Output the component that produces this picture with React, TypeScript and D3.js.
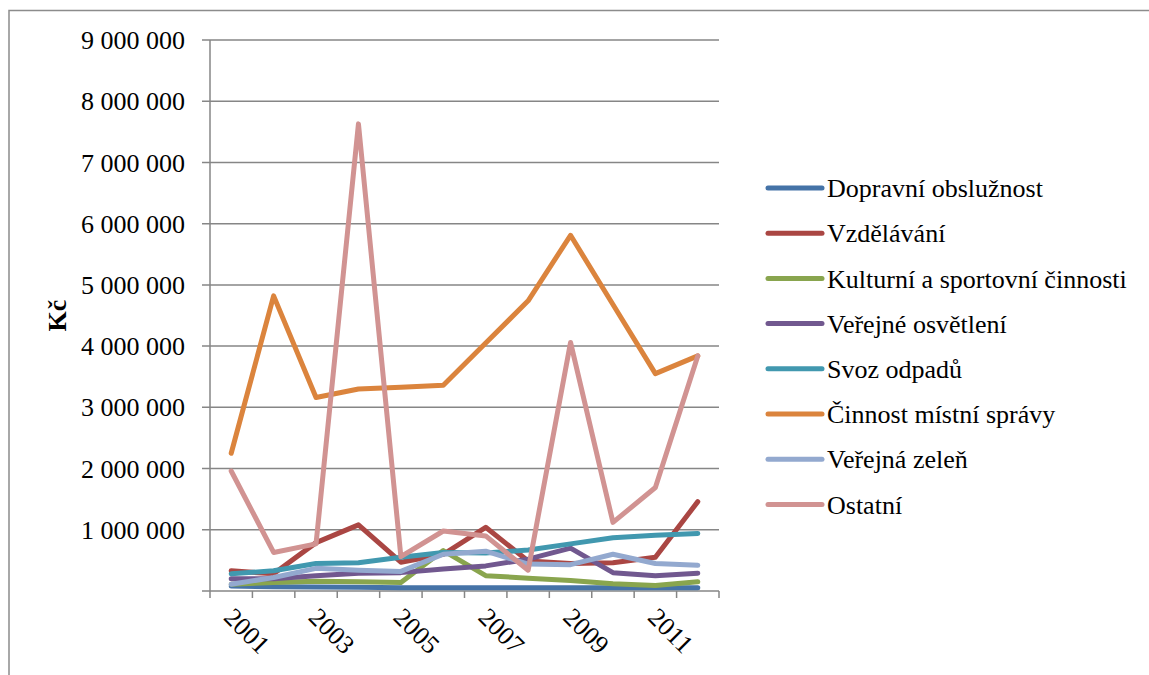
import React, { useEffect, useRef } from "react";
import * as d3 from "d3";

const years = ["2001", "2002", "2003", "2004", "2005", "2006", "2007", "2008", "2009", "2010", "2011", "2012"];

const dopravni = [80000, 70000, 65000, 60000, 55000, 55000, 55000, 55000, 55000, 55000, 55000, 55000];
const vzdelavani = [330000, 280000, 790000, 1080000, 470000, 600000, 1040000, 490000, 450000, 460000, 550000, 1460000];
const kulturni = [110000, 140000, 160000, 150000, 140000, 660000, 250000, 210000, 170000, 120000, 90000, 150000];
const osvetleni = [200000, 200000, 250000, 290000, 300000, 360000, 410000, 520000, 700000, 300000, 250000, 290000];
const svoz = [280000, 330000, 450000, 460000, 550000, 630000, 620000, 670000, 770000, 870000, 910000, 940000];
const sprava = [2250000, 4820000, 3160000, 3300000, 3330000, 3360000, 4050000, 4740000, 5810000, 4680000, 3550000, 3840000];
const zelen = [110000, 220000, 370000, 340000, 320000, 600000, 650000, 440000, 430000, 600000, 450000, 420000];
const ostatni = [1960000, 630000, 770000, 7630000, 560000, 980000, 900000, 340000, 4060000, 1120000, 1690000, 3840000];

const seriesNames = [
    "Dopravní obslužnost",
    "Vzdělávání",
    "Kulturní a sportovní činnosti",
    "Veřejné osvětlení",
    "Svoz odpadů",
    "Činnost místní správy",
    "Veřejná zeleň",
    "Ostatní",
];
const seriesValues = [dopravni, vzdelavani, kulturni, osvetleni, svoz, sprava, zelen, ostatni];
const colors = ["#4573a7", "#aa4643", "#89a54e", "#71588f", "#4198af", "#db843d", "#93a9cf", "#d19392"];

const yTicks = [0, 1000000, 2000000, 3000000, 4000000, 5000000, 6000000, 7000000, 8000000, 9000000];

const FONT = "'Liberation Serif', 'Times New Roman', serif";

const formatSpaces = (n: number): string => {
    return n.toString().replace(/\B(?=(\d{3})+(?!\d))/g, " ");
};

const App = () => {
    const svgRef = useRef(null);

    useEffect(() => {
        document.body.style.margin = "0";
        const width = 1149;
        const height = 675;
        const left = 210;
        const right = 719;
        const top = 40;
        const bottom = 591;

        const svg = d3.select(svgRef.current).attr("width", width).attr("height", height);
        svg.selectAll("*").remove();

        // outer chart frame (cut off at right and bottom)
        svg.append("path")
            .attr("d", `M9,${height + 5} L9,10.5 L${width + 5},10.5`)
            .attr("fill", "none")
            .attr("stroke", "#8c8c8c")
            .attr("stroke-width", 1.5);

        const x = d3.scaleBand().domain(years).range([left, right]);
        const y = d3.scaleLinear().domain([0, 9000000]).range([bottom, top]);

        // gridlines + y ticks
        svg.selectAll(".grid")
            .data(yTicks)
            .enter()
            .append("line")
            .attr("class", "grid")
            .attr("x1", left - 8)
            .attr("x2", right)
            .attr("y1", (d) => y(d))
            .attr("y2", (d) => y(d))
            .attr("stroke", "#868686")
            .attr("stroke-width", 1.5);

        svg.selectAll(".ylabel")
            .data(yTicks.filter((d) => d > 0))
            .enter()
            .append("text")
            .attr("class", "ylabel")
            .attr("x", 185)
            .attr("y", (d) => y(d))
            .attr("dy", "0.35em")
            .attr("text-anchor", "end")
            .attr("font-family", FONT)
            .attr("font-size", 26)
            .attr("fill", "#000")
            .text((d) => formatSpaces(d));

        // axes lines
        svg.append("line")
            .attr("x1", left)
            .attr("x2", left)
            .attr("y1", top)
            .attr("y2", bottom)
            .attr("stroke", "#868686")
            .attr("stroke-width", 1.5);

        const xTickPos = years.map((yr) => x(yr)).concat([right]);
        svg.selectAll(".xtick")
            .data(xTickPos)
            .enter()
            .append("line")
            .attr("class", "xtick")
            .attr("x1", (d) => d)
            .attr("x2", (d) => d)
            .attr("y1", bottom)
            .attr("y2", bottom + 7)
            .attr("stroke", "#868686")
            .attr("stroke-width", 1.5);

        svg.selectAll(".xlabel")
            .data(years.filter((_d, i) => i % 2 === 0))
            .enter()
            .append("text")
            .attr("class", "xlabel")
            .attr("transform", (d) => `translate(${x(d) + x.bandwidth() / 2 + 5}, ${bottom + 14}) rotate(45)`)
            .attr("dy", "0.75em")
            .attr("text-anchor", "start")
            .attr("font-family", FONT)
            .attr("font-size", 26)
            .attr("fill", "#000")
            .text((d) => d);

        // y title
        svg.append("text")
            .attr("transform", `translate(57, ${(top + bottom) / 2}) rotate(-90)`)
            .attr("dy", "0.35em")
            .attr("text-anchor", "middle")
            .attr("font-family", FONT)
            .attr("font-weight", "bold")
            .attr("font-size", 26)
            .text("Kč");

        const line = d3
            .line<number>()
            .x((_d, i) => x(years[i]) + x.bandwidth() / 2)
            .y((d) => y(d));

        seriesValues.forEach((vals, i) => {
            svg.append("path")
                .datum(vals)
                .attr("d", line)
                .attr("fill", "none")
                .attr("stroke", colors[i])
                .attr("stroke-width", 5)
                .attr("stroke-linejoin", "round")
                .attr("stroke-linecap", "round");
        });

        // legend
        const legend = svg
            .selectAll(".legend")
            .data(seriesNames)
            .enter()
            .append("g")
            .attr("class", "legend")
            .attr("transform", (_d, i) => `translate(768, ${188 + i * 45.2})`);

        legend
            .append("line")
            .attr("x1", 0)
            .attr("x2", 54)
            .attr("stroke", (_d, i) => colors[i])
            .attr("stroke-width", 5)
            .attr("stroke-linecap", "round");

        legend
            .append("text")
            .attr("x", 59)
            .attr("dy", "0.35em")
            .attr("font-family", FONT)
            .attr("font-size", 26)
            .attr("fill", "#000")
            .text((d) => d);
    }, []);

    return (
        <div style={{ width: "1149px", height: "675px", background: "#fff" }}>
            <svg ref={svgRef} style={{ display: "block" }}></svg>
        </div>
    );
};

export default App;
